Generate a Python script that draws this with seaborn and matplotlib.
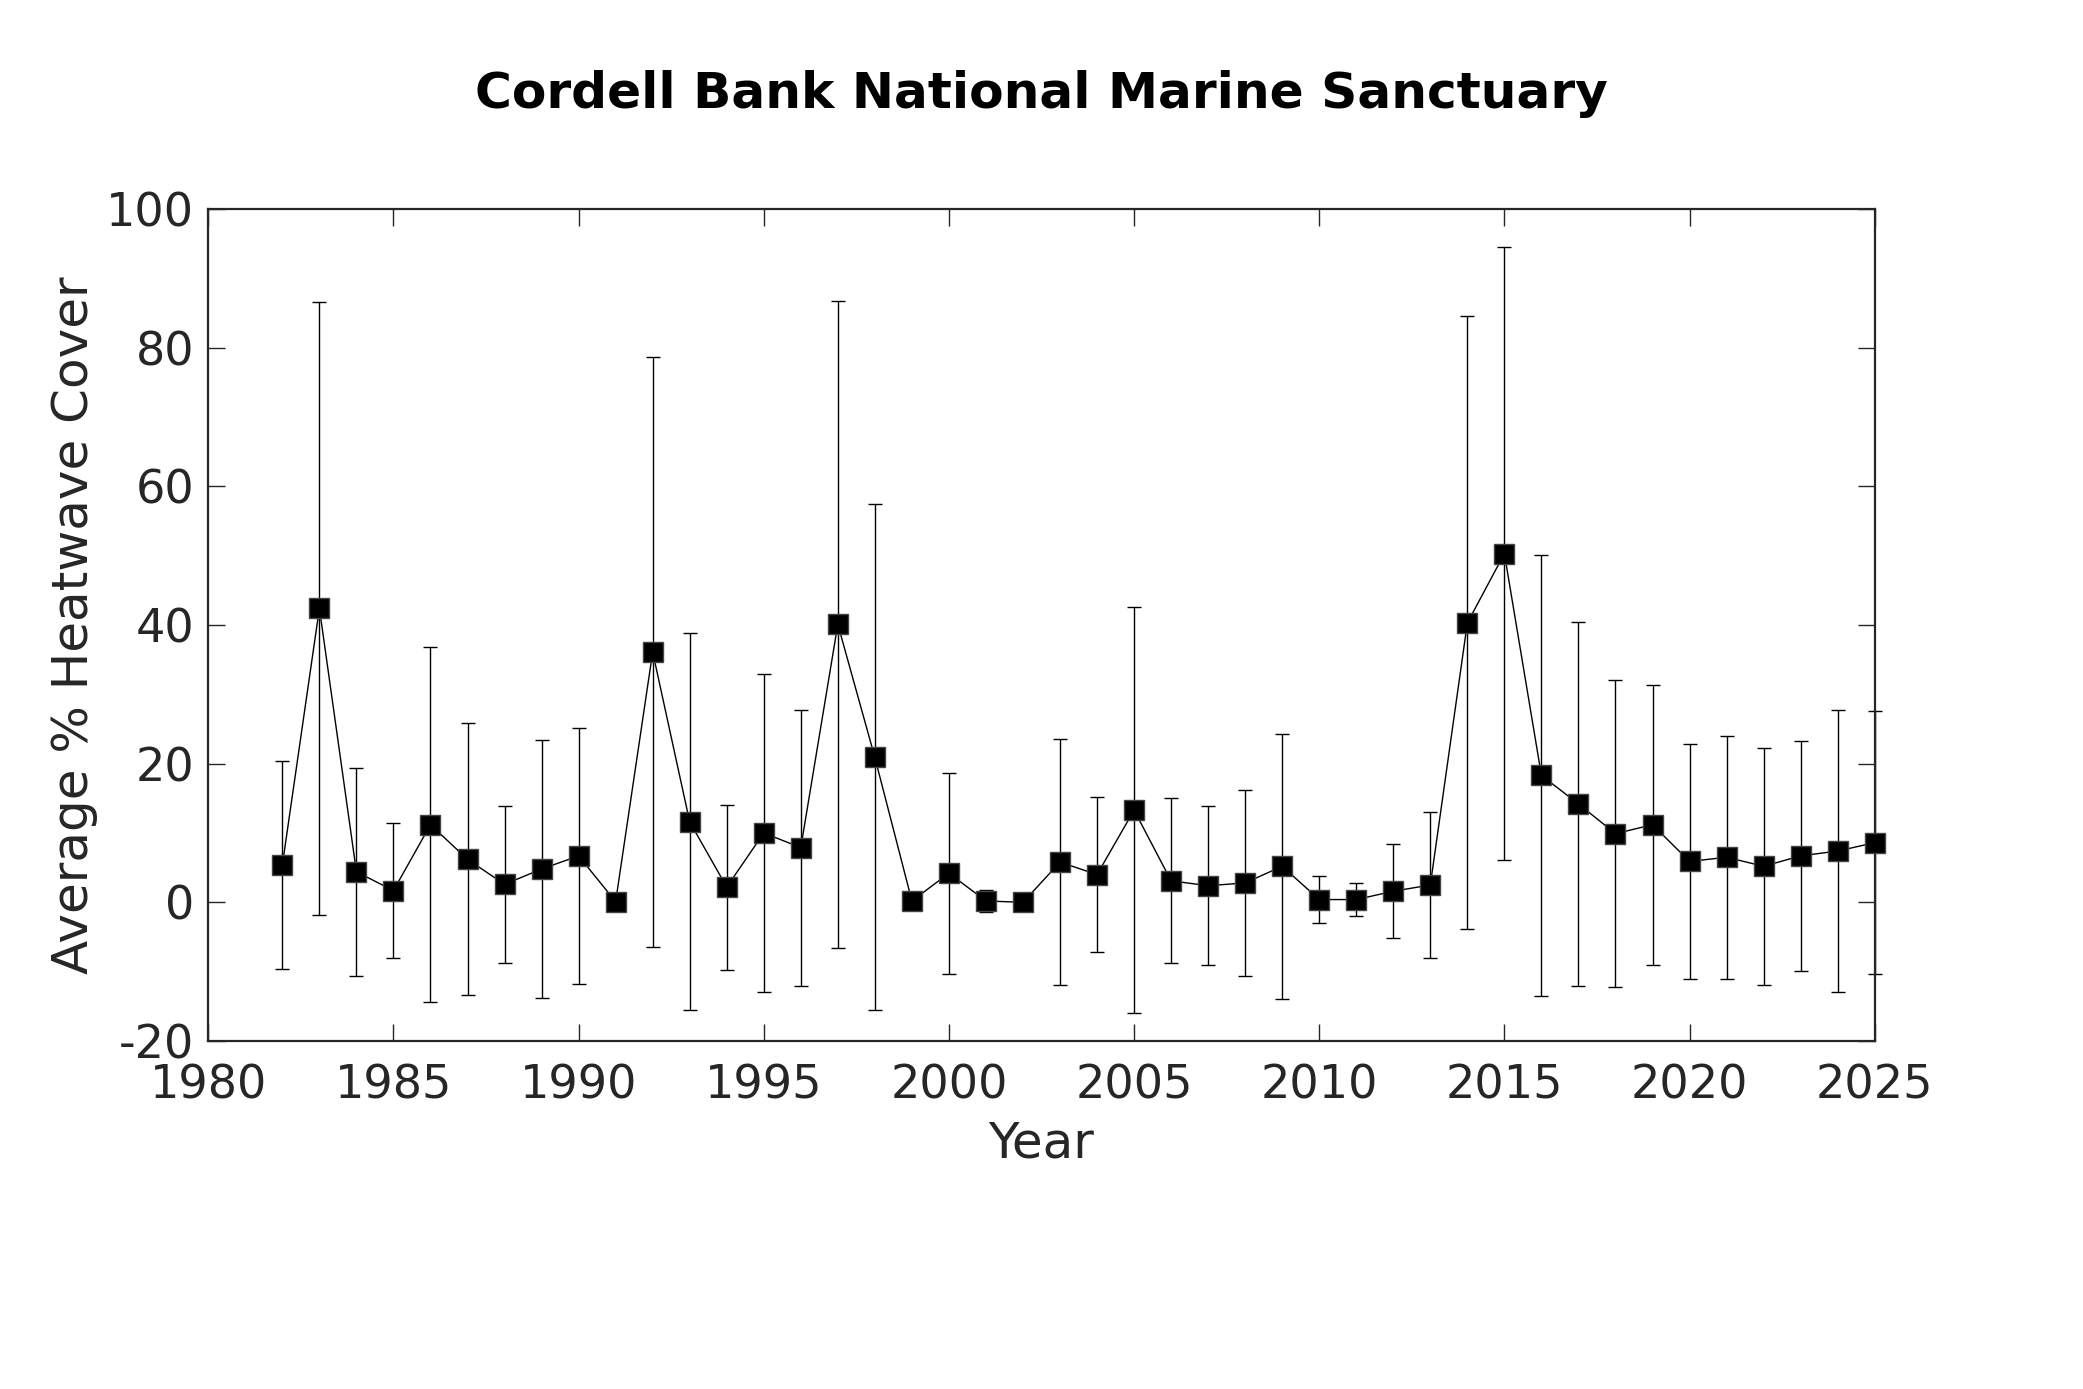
import matplotlib
matplotlib.use("Agg")
import matplotlib.pyplot as plt
import seaborn as sns
import pandas as pd
import numpy as np

years = list(range(1982, 2026))
mean_cover = [5.4, 42.4, 4.4, 1.7, 11.2, 6.2, 2.6, 4.8, 6.7, 0.1,
              36.1, 11.6, 2.2, 10.0, 7.9, 40.1, 20.9, 0.2, 4.2, 0.2,
              0.0, 5.8, 4.0, 13.3, 3.1, 2.4, 2.8, 5.2, 0.4, 0.4,
              1.6, 2.5, 40.3, 50.3, 18.3, 14.2, 9.9, 11.2, 5.9, 6.5,
              5.2, 6.7, 7.4, 8.6]
std_cover = [15.0, 44.2, 15.0, 9.7, 25.6, 19.6, 11.3, 18.6, 18.5, 0.0,
             42.5, 27.2, 11.9, 22.9, 19.9, 46.7, 36.5, 0.0, 14.5, 1.6,
             0.0, 17.7, 11.2, 29.3, 11.9, 11.5, 13.4, 19.1, 3.4, 2.4,
             6.8, 10.6, 44.2, 44.2, 31.8, 26.2, 22.1, 20.2, 17.0, 17.5,
             17.1, 16.6, 20.3, 19.0]
x_ticks = [1980, 1985, 1990, 1995, 2000, 2005, 2010, 2015, 2020, 2025]
y_ticks = [-20, 0, 20, 40, 60, 80, 100]

df = pd.DataFrame({"Year": years, "Mean": mean_cover, "Std": std_cover})

sns.set_theme(style="white")
plt.rcParams['font.family'] = ['DejaVu Sans']

dark = "#262626"
fig = plt.figure(figsize=(2083 / 200, 1389 / 200), dpi=200)
ax = fig.add_axes([0.1, 1 - 1041 / 1389, 0.8, (1041 - 209) / 1389])

ax.errorbar(df["Year"], df["Mean"], yerr=df["Std"], fmt="none",
            ecolor="black", elinewidth=0.5, capsize=2.6, capthick=0.5,
            clip_on=False, zorder=2)
sns.lineplot(data=df, x="Year", y="Mean", ax=ax, color="black",
             linewidth=0.5, marker="s", markersize=7.2,
             markerfacecolor="black", markeredgecolor="#444444",
             markeredgewidth=0.5, clip_on=False, zorder=3)

ax.set_xlim(1980, 2025)
ax.set_ylim(-20, 100)
ax.set_xticks(x_ticks)
ax.set_yticks(y_ticks)
ax.set_xticklabels([str(t) for t in x_ticks])
ax.set_yticklabels([str(t) for t in y_ticks])

for s in ax.spines.values():
    s.set_visible(True)
    s.set_color(dark)
    s.set_linewidth(0.8)

ax.tick_params(axis="both", which="both", direction="in", length=6,
               width=0.5, color=dark, labelcolor=dark, labelsize=16.6,
               top=True, right=True, bottom=True, left=True)
ax.tick_params(axis="x", pad=8)
ax.tick_params(axis="y", pad=5)

ax.set_xlabel("Year", fontsize=18, color=dark, labelpad=4)
ax.set_ylabel("Average % Heatwave Cover", fontsize=18, color=dark, labelpad=3)
ax.grid(False)

fig.suptitle("Cordell Bank National Marine Sanctuary", fontsize=18.1,
             fontweight="bold", color="black", x=0.5, y=1 - 94 / 1389,
             va="center")

fig.savefig("out.png", dpi=200, facecolor="white")
